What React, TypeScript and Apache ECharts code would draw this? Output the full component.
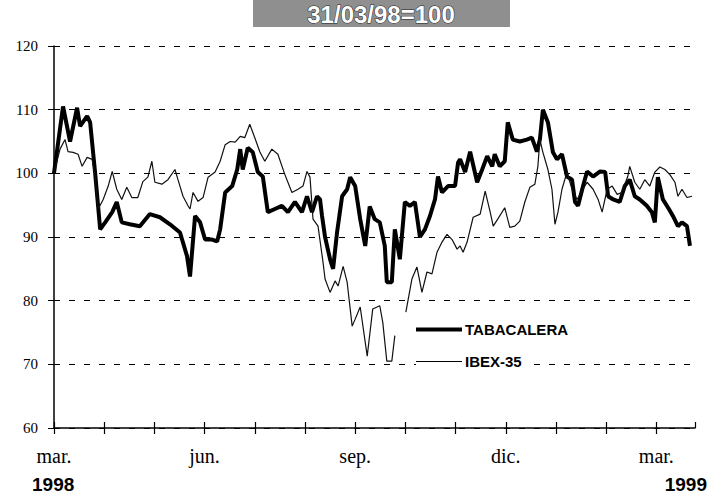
import React, { useEffect, useRef } from "react";
import * as echarts from "echarts";

// x positions in months from 31/03/98 (0 = mar. 1998, 12 = mar. 1999)
const tabX = [0,0.18,0.32,0.46,0.52,0.66,0.72,0.82,0.92,1.02,1.16,1.25,1.35,1.51,1.71,1.91,2.11,2.31,2.51,2.65,2.71,2.81,2.91,3.01,3.15,3.25,3.31,3.41,3.55,3.65,3.71,3.76,3.86,3.96,4.06,4.16,4.26,4.40,4.54,4.66,4.80,4.94,5.04,5.14,5.24,5.30,5.34,5.40,5.50,5.56,5.64,5.74,5.84,5.90,6.00,6.10,6.20,6.29,6.39,6.49,6.59,6.63,6.73,6.79,6.89,6.99,7.09,7.19,7.29,7.39,7.49,7.59,7.65,7.73,7.85,7.99,8.05,8.09,8.19,8.29,8.43,8.53,8.63,8.73,8.78,8.88,8.98,9.04,9.14,9.28,9.42,9.52,9.62,9.68,9.74,9.84,9.94,10.02,10.12,10.22,10.32,10.38,10.44,10.54,10.62,10.74,10.88,10.98,11.04,11.14,11.27,11.37,11.47,11.57,11.67,11.81,11.91,11.97,12.03,12.13,12.25,12.33,12.43,12.51,12.61,12.67];
const tabV = [100,110.5,105,110.3,107.4,109,108,100,91.2,92.3,93.9,95.5,92.3,92,91.7,93.6,93.1,92,90.7,87,83.8,93.3,92.3,89.6,89.6,89.3,91.2,97,98,100.6,103.8,100.6,104,103.3,100.2,99.5,93.9,94.4,94.9,93.9,95.5,93.9,96.4,93.9,96.4,95.9,93.3,90,86.5,85,90.8,96.4,97.5,99.4,98,92.8,88.6,94.8,92.8,92.3,88.6,82.9,82.9,91.2,86.5,95.5,94.9,95.5,90,91.2,93.3,95.9,99.5,97,98,98,101.7,102.2,100.2,103.4,98.6,100.6,102.7,101.1,103,101.1,101.9,108,105.3,105,105.3,105.6,103.4,105.3,110,108,103.3,102.2,103,99.5,99,95.5,94.9,98,100.3,99.5,100.3,100.2,96.4,95.9,95.5,98,99,96.4,95.9,94.9,93.9,92.3,99.4,95.9,94.4,93.3,91.7,92.3,91.7,88.6];

const ibexX = [0,0.12,0.22,0.28,0.38,0.48,0.56,0.66,0.76,0.82,0.88,0.98,1.08,1.16,1.25,1.35,1.45,1.55,1.67,1.77,1.87,1.95,2.01,2.15,2.27,2.41,2.47,2.57,2.67,2.71,2.77,2.87,2.97,3.07,3.21,3.31,3.41,3.51,3.61,3.71,3.80,3.90,4.00,4.10,4.20,4.34,4.46,4.60,4.74,4.86,4.96,5.04,5.10,5.16,5.26,5.36,5.40,5.50,5.60,5.66,5.76,5.84,5.94,6.00,6.10,6.24,6.35,6.49,6.55,6.63,6.73,6.79,6.90,7.01,7.13,7.23,7.33,7.43,7.53,7.63,7.73,7.83,7.93,8.03,8.09,8.15,8.23,8.35,8.49,8.59,8.69,8.75,8.84,8.98,9.08,9.18,9.28,9.38,9.48,9.58,9.64,9.68,9.74,9.84,9.92,9.98,10.04,10.12,10.22,10.32,10.42,10.54,10.62,10.74,10.84,10.92,11.02,11.12,11.22,11.31,11.43,11.47,11.57,11.67,11.77,11.87,11.97,12.07,12.17,12.27,12.37,12.43,12.51,12.61,12.71];
const ibexV = [100,103.8,105.3,103.4,103.3,103,101.1,102.5,102.2,99.5,94.4,95.9,98,100.3,97.5,95.9,97.8,96.2,96.2,98.7,99.4,101.9,98.6,98.3,99,100.6,99,96.4,94.9,94.4,97,95.6,96.2,99.4,100.2,101.9,104.5,105,104.9,105.8,105.6,107.7,105.6,103.4,101.9,103.8,103,99.8,97,97.5,98,100.3,99.4,92.8,91.7,86,83.4,81.3,83.1,82.3,85.4,82.9,76,77.1,79,71.3,78.7,79.2,76.6,70.5,70.5,74.5,null,78.2,83.4,85.3,81.3,84.5,84.2,87.6,89.2,90.4,89.6,88.1,88.6,87.6,89.2,93.1,93.6,97.2,93.9,91.7,92.8,94.6,91.5,91.7,92.5,95.5,97.8,98.3,101.1,105.3,103.3,100.6,97.5,92,93.9,97.5,100.2,97.5,95.9,97.5,98.6,97.5,95.9,93.9,97.5,98,96.7,97,99.5,101.1,98.6,97.5,99,98,100.2,101,100.6,99.8,98.6,96.4,97.5,96.2,96.4];

const monthLabels: Record<number, string> = { 0: "mar.", 3: "jun.", 6: "sep.", 9: "dic.", 12: "mar." };
const yearLabels = ["1998", "1999"];
const titleText = "31/03/98=100";
const seriesNames = ["TABACALERA", "IBEX-35"];

export default function App() {
  const ref = useRef<HTMLDivElement>(null);
  useEffect(() => {
    if (!ref.current) return;
    const chart = echarts.init(ref.current, null, { renderer: "svg" });
    const toPairs = (xs: number[], vs: (number | null)[]) =>
      xs.map((x, i) => [x, vs[i] === null ? "-" : vs[i]]);
    const xMax = 12.77;
    const legendText = { fontFamily: "Liberation Sans", fontSize: 15, fontWeight: "bold", color: "#000", padding: [0, 0, 0, -2] };
    chart.setOption({
      animation: false,
      backgroundColor: "#ffffff",
      grid: { left: 54, right: 28, top: 46, bottom: 68 },
      legend: [
        {
          data: [seriesNames[0]],
          left: 416, top: 320, padding: [2, 6, 2, 0],
          backgroundColor: "#ffffff",
          icon: "rect", itemWidth: 46, itemHeight: 4,
          itemStyle: { color: "#000" },
          textStyle: legendText,
        },
        {
          data: [seriesNames[1]],
          left: 416, top: 352, padding: [2, 6, 2, 0],
          backgroundColor: "#ffffff",
          icon: "rect", itemWidth: 46, itemHeight: 1,
          itemStyle: { color: "#000" },
          textStyle: legendText,
        },
      ],
      xAxis: [
        {
          type: "value", min: 0, max: xMax, interval: 1,
          axisLine: { show: true, lineStyle: { color: "#000", width: 1.5 } },
          axisTick: { show: true, inside: false, length: 6, lineStyle: { color: "#000", width: 1.2 } },
          axisLabel: {
            margin: 18, fontFamily: "Liberation Serif", fontSize: 20, color: "#000",
            showMaxLabel: false,
            formatter: (v: number) => monthLabels[Math.round(v)] !== undefined && Math.abs(v - Math.round(v)) < 1e-6 ? monthLabels[Math.round(v)] : "",
          },
          splitLine: { show: false },
        },
        {
          type: "value", min: 0, max: xMax, interval: 1, position: "bottom",
          axisLine: { show: false },
          axisTick: { show: true, inside: true, length: 6, lineStyle: { color: "#000", width: 1.2 } },
          axisLabel: { show: false },
          splitLine: { show: false },
        },
      ],
      yAxis: {
        type: "value", min: 60, max: 120, interval: 10,
        axisLine: { show: true, lineStyle: { color: "#000", width: 1.5 } },
        axisTick: { show: true, inside: false, length: 6, lineStyle: { color: "#000" } },
        axisLabel: { margin: 16, fontFamily: "Liberation Serif", fontSize: 15, color: "#000" },
        splitLine: { show: true, lineStyle: { color: "#000", width: 1.2, type: [6, 9] } },
      },
      series: [
        {
          name: seriesNames[0], type: "line", xAxisIndex: 0,
          data: toPairs(tabX, tabV), showSymbol: false, symbol: "none",
          lineStyle: { color: "#000", width: 4 }, itemStyle: { color: "#000" },
          z: 3,
        },
        {
          name: seriesNames[1], type: "line", xAxisIndex: 0,
          data: toPairs(ibexX, ibexV), showSymbol: false, symbol: "none", connectNulls: false,
          lineStyle: { color: "#111", width: 1.2 }, itemStyle: { color: "#000" },
          z: 4,
        },
      ],
      graphic: [
        { type: "rect", shape: { x: 253, y: 0, width: 257, height: 27 }, style: { fill: "#8f8f8f" }, z: 10 },
        {
          type: "text", x: 381, y: 14, z: 11,
          style: { text: titleText, fontFamily: "Liberation Sans", fontSize: 24, fontWeight: "bold", fill: "#ffffff", stroke: "#222", lineWidth: 1, align: "center", verticalAlign: "middle" },
        },
        {
          type: "text", x: 32, y: 484, z: 11,
          style: { text: yearLabels[0], fontFamily: "Liberation Sans", fontSize: 19, fontWeight: "bold", fill: "#000", align: "left", verticalAlign: "middle" },
        },
        {
          type: "text", x: 707, y: 484, z: 11,
          style: { text: yearLabels[1], fontFamily: "Liberation Sans", fontSize: 19, fontWeight: "bold", fill: "#000", align: "right", verticalAlign: "middle" },
        },
      ],
    });
    return () => chart.dispose();
  }, []);
  return <div ref={ref} style={{ position: "absolute", left: 0, top: 0, width: 723, height: 496 }} />;
}
